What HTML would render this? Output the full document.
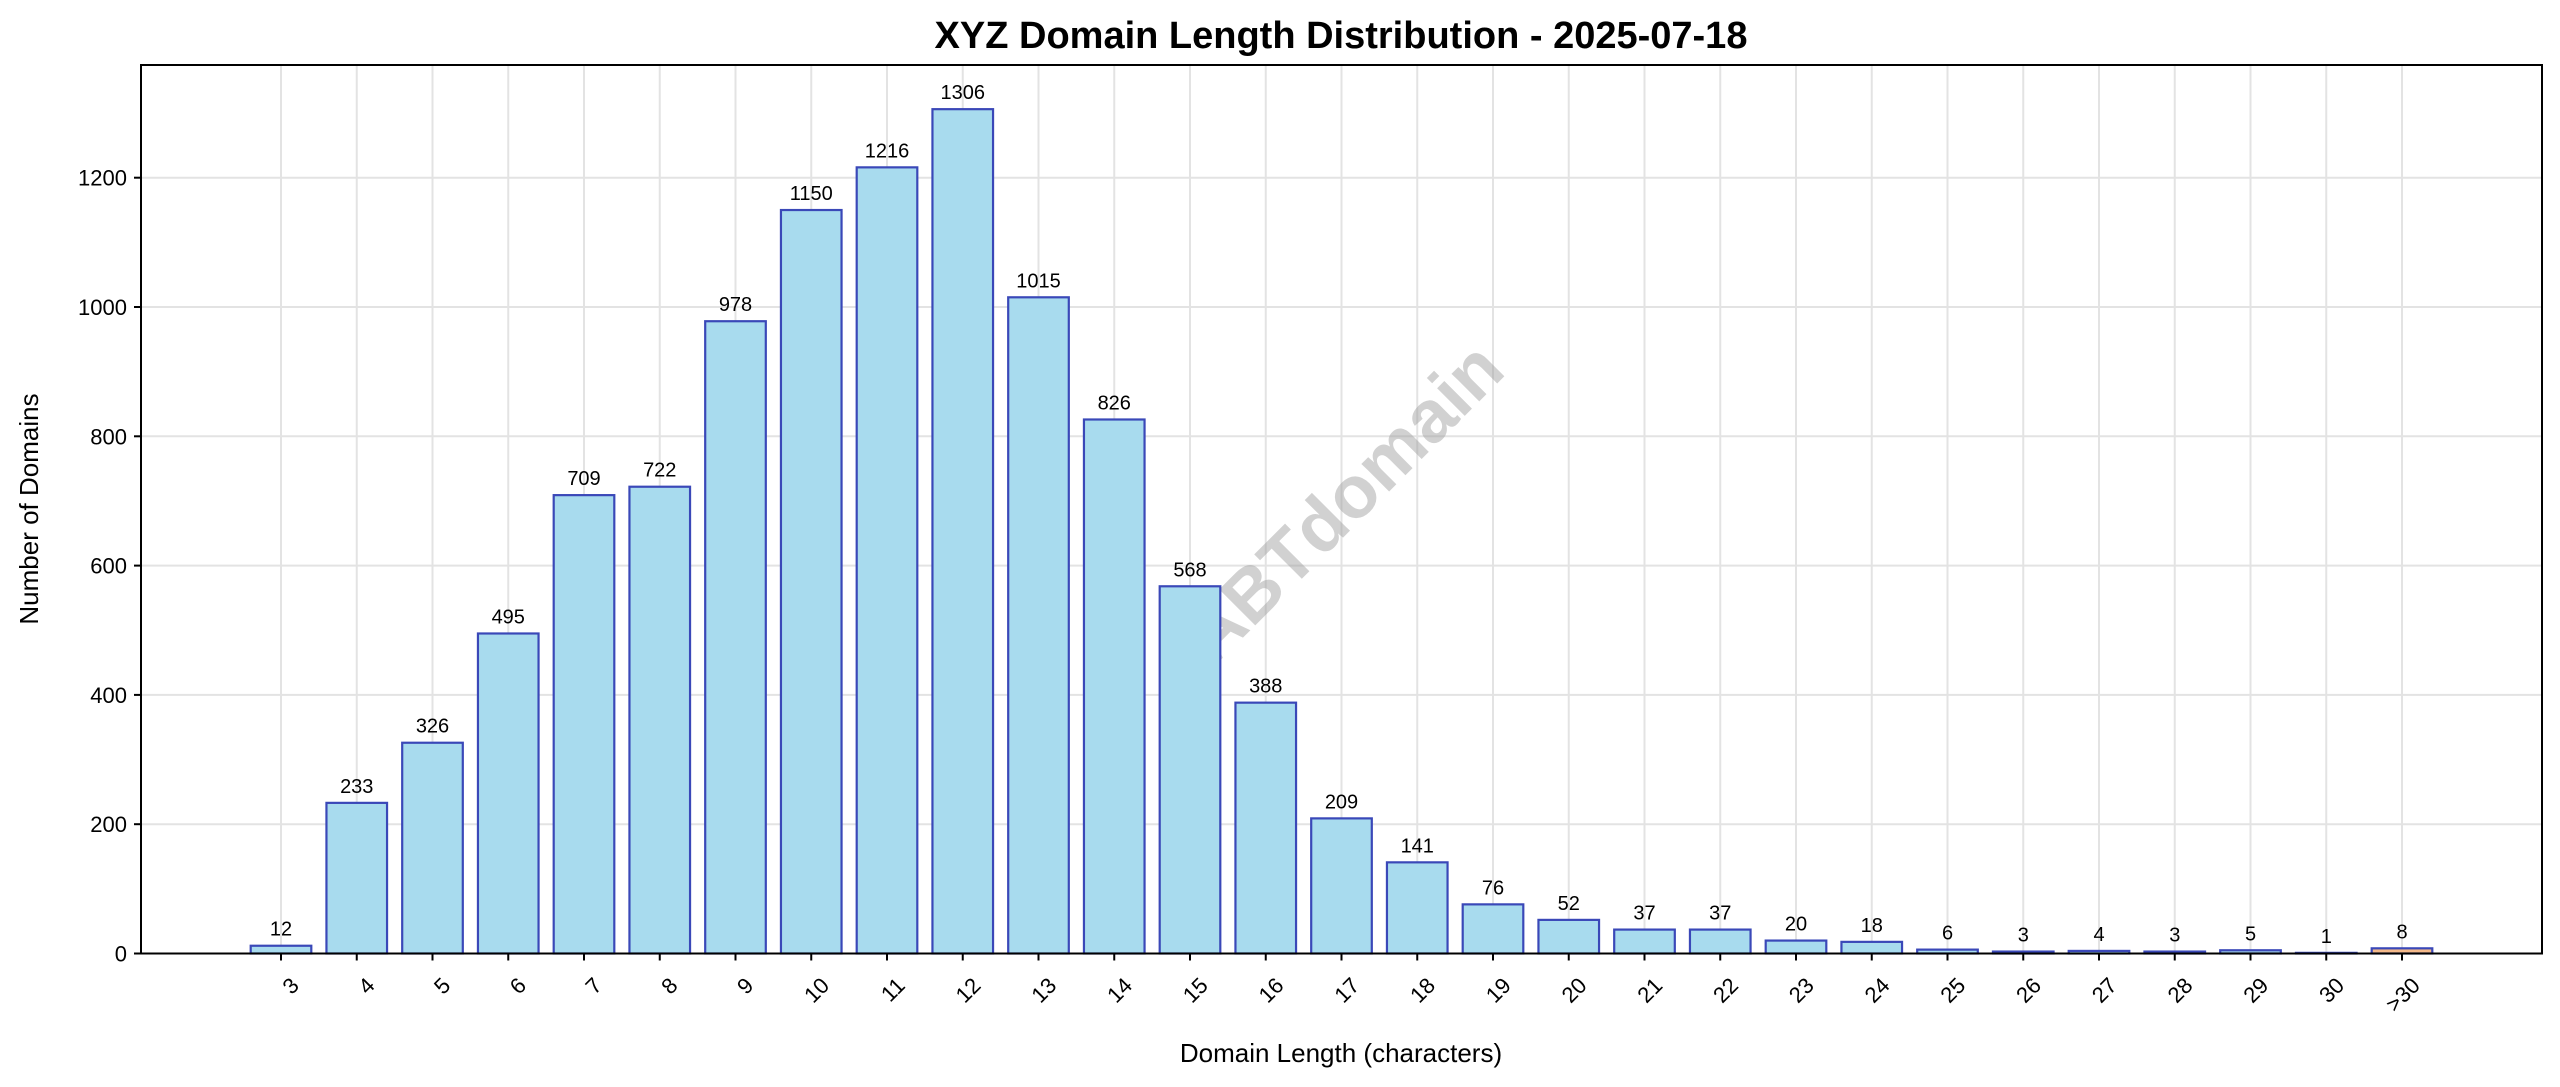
<!DOCTYPE html>
<html><head><meta charset="utf-8"><style>
body{margin:0;background:#fff}
svg{display:block;font-family:"Liberation Sans","DejaVu Sans",sans-serif}
</style></head><body>
<svg id="chart" width="2560" height="1087" viewBox="0 0 2560 1087">
<text x="1341" y="48" text-anchor="middle" font-size="38" font-weight="bold">XYZ Domain Length Distribution - 2025-07-18</text>
<text x="1341" y="1062" text-anchor="middle" font-size="26">Domain Length (characters)</text>
<text x="38" y="509" text-anchor="middle" font-size="26" transform="rotate(-90 38 509)">Number of Domains</text>
<g id="grid"></g>
<text x="1347" y="506" text-anchor="middle" dominant-baseline="middle" font-size="74" font-weight="bold" fill="#999" fill-opacity="0.45" transform="rotate(-45 1347 506)">ABTdomain</text>
<g id="bars"></g>
<g id="axes"></g>
</svg>
<script>
const categories=["3","4","5","6","7","8","9","10","11","12","13","14","15","16","17","18","19","20","21","22","23","24","25","26","27","28","29","30",">30"];
const counts=[12,233,326,495,709,722,978,1150,1216,1306,1015,826,568,388,209,141,76,52,37,37,20,18,6,3,4,3,5,1,8];
const yTicks=[0,200,400,600,800,1000,1200];
const L=141,R=2542,T=65,B=953.5;
const x0=281,step=(2402-281)/(categories.length-1),bw=step*0.8;
const yScale=v=>B-v*0.6465;
const xScale=i=>x0+i*step;
const NS="http://www.w3.org/2000/svg";
function mk(tag,attrs,parent){const e=document.createElementNS(NS,tag);for(const k in attrs)e.setAttribute(k,attrs[k]);parent.appendChild(e);return e;}
const grid=document.getElementById('grid'),bars=document.getElementById('bars'),axes=document.getElementById('axes');
yTicks.forEach(v=>{
 const y=yScale(v);
 const g=mk('line',{x1:L,x2:R,y1:y,y2:y,stroke:'#e3e3e3','stroke-width':2},grid);
 
 
 const t=mk('line',{x1:L-7,x2:L,y1:y,y2:y,stroke:'#000','stroke-width':2},axes);
 
 
 const lb=mk('text',{x:L-14,y:y+8,'text-anchor':'end','font-size':22},axes);
 lb.textContent=v;
 
 
});
categories.forEach((c,i)=>{
 const x=xScale(i);
 const g=mk('line',{x1:x,x2:x,y1:T,y2:B,stroke:'#e3e3e3','stroke-width':2},grid);
 
 
 const v=counts[i],y=yScale(v);
 const last=c===">30";
 const r=mk('rect',{x:x-bw/2,y:y,width:bw,height:B-y,fill:last?'#f4b98a':'#a8dbee',stroke:'#3a48b8','stroke-width':2.2},bars);
 
 
 const vl=mk('text',{x:x,y:y-10,'text-anchor':'middle','font-size':20},bars);
 vl.textContent=v;
 
 
 const t=mk('line',{x1:x,x2:x,y1:B,y2:B+7,stroke:'#000','stroke-width':2},axes);
 
 
 const lb=mk('text',{x:x+8,y:B+22,'text-anchor':'end','font-size':22,transform:`rotate(-45 ${x+8} ${B+22})`,'dominant-baseline':'hanging'},axes);
 lb.textContent=c;
 
 
});
const frame=mk('rect',{x:L,y:T,width:R-L,height:B-T,fill:'none',stroke:'#000','stroke-width':2},axes);


</script>
</body></html>
